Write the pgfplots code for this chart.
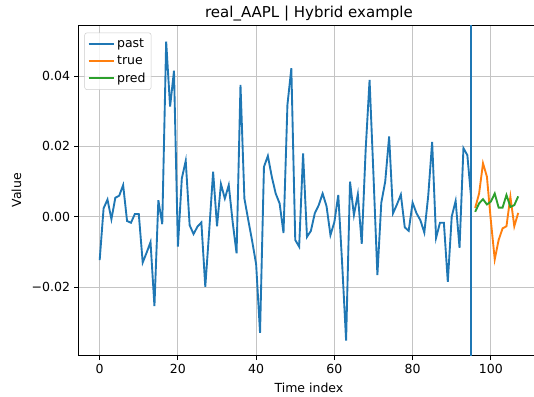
\documentclass[border=0pt]{standalone}
\usepackage{fontspec}
\setmainfont{DejaVu Sans}
\usepackage{pgfplots}
\usepackage{pgfplotstable}
\pgfplotsset{compat=1.18}
\definecolor{tabblue}{HTML}{1F77B4}
\definecolor{taborange}{HTML}{FF7F0E}
\definecolor{tabgreen}{HTML}{2CA02C}
\definecolor{gridgray}{HTML}{C4C4C4}
\definecolor{legedge}{HTML}{CCCCCC}

\pgfplotstableread{
x y
0 -0.0123
1 0.0024
2 0.0049
3 -0.0007
4 0.0054
5 0.0060
6 0.0090
7 -0.0012
8 -0.0017
9 0.0008
10 0.0008
11 -0.0130
12 -0.0102
13 -0.0072
14 -0.0254
15 0.0047
16 -0.0021
17 0.0498
18 0.0313
19 0.0415
20 -0.0085
21 0.0109
22 0.0159
23 -0.0024
24 -0.0049
25 -0.0028
26 -0.0016
27 -0.0199
28 -0.0040
29 0.0128
30 -0.0027
31 0.0093
32 0.0052
33 0.0090
34 -0.0015
35 -0.0104
36 0.0375
37 0.0052
38 -0.0010
39 -0.0070
40 -0.0135
41 -0.0330
42 0.0142
43 0.0173
44 0.0114
45 0.0066
46 0.0038
47 -0.0046
48 0.0318
49 0.0422
50 -0.0066
51 -0.0085
52 0.0180
53 -0.0057
54 -0.0040
55 0.0010
56 0.0033
57 0.0066
58 0.0030
59 -0.0052
60 -0.0015
61 0.0062
62 -0.0135
63 -0.0352
64 0.0100
65 0.0005
66 0.0064
67 -0.0077
68 0.0190
69 0.0389
70 0.0118
71 -0.0166
72 0.0040
73 0.0100
74 0.0228
75 0.0010
76 0.0035
77 0.0063
78 -0.0030
79 -0.0040
80 0.0040
81 0.0010
82 -0.0010
83 -0.0045
84 0.0060
85 0.0213
86 -0.0060
87 -0.0017
88 -0.0017
89 -0.0185
90 0.0000
91 0.0045
92 -0.0088
93 0.0195
94 0.0175
95 0.0050
}\pasttable

\pgfplotstableread{
x y
96 0.0025
97 0.0066
98 0.0152
99 0.0114
100 -0.0010
101 -0.0121
102 -0.0066
103 -0.0033
104 -0.0027
105 0.0057
106 -0.0027
107 0.0011
}\truetable

\pgfplotstableread{
x y
96 0.0014
97 0.0038
98 0.0050
99 0.0035
100 0.0043
101 0.0066
102 0.0026
103 0.0026
104 0.0062
105 0.0028
106 0.0033
107 0.0058
}\predtable

\begin{document}
\begin{tikzpicture}
\path[use as bounding box] (-63pt,-32.2pt) rectangle (364.2pt,284.6pt);
\begin{axis}[
  scale only axis,
  width=368.3pt, height=264.6pt,
  at={(0pt,0pt)}, anchor=south west,
  xmin=-5.35, xmax=112.35,
  ymin=-0.0395, ymax=0.0545,
  scaled y ticks=false, scaled x ticks=false,
  xtick={0,20,40,60,80,100},
  xticklabels={0,20,40,60,80,100},
  ytick={-0.02,0,0.02,0.04},
  yticklabels={−0.02,0.00,0.02,0.04},
  grid=major,
  major grid style={color=gridgray, line width=0.8pt},
  axis line style={line width=0.8pt},
  tick style={color=black, line width=0.8pt},
  major tick length=3.5pt,
  tick align=outside,
  xtick pos=bottom, ytick pos=left,
  ticklabel style={font=\fontsize{10}{12}\selectfont},
  label style={font=\fontsize{10}{12}\selectfont},
  every axis title shift=0pt,
  title style={font=\fontsize{12}{14}\selectfont},
  title={real\_AAPL | Hybrid example},
  xlabel={Time index},
  ylabel={Value},
  ylabel style={yshift=1.5pt},
  legend style={at={(axis description cs:0,1)}, anchor=north west,
    xshift=4.5pt, yshift=-6pt, draw=legedge, rounded corners=2pt,
    fill=white, fill opacity=0.8, text opacity=1,
    font=\fontsize{10}{12}\selectfont, inner sep=2.5pt, row sep=1.2pt},
  legend cell align=left,
  legend image code/.code={\draw[#1] (0pt,0pt) -- (20pt,0pt);},
]
\addplot[tabblue, line width=1.5pt] table[x=x,y=y] {\pasttable};
\addlegendentry{past}
\addplot[taborange, line width=1.5pt] table[x=x,y=y] {\truetable};
\addlegendentry{true}
\addplot[tabgreen, line width=1.5pt] table[x=x,y=y] {\predtable};
\addlegendentry{pred}
\addplot[tabblue, line width=1.5pt, forget plot] coordinates {(95,-0.0395) (95,0.0545)};
\end{axis}
\end{tikzpicture}
\end{document}
